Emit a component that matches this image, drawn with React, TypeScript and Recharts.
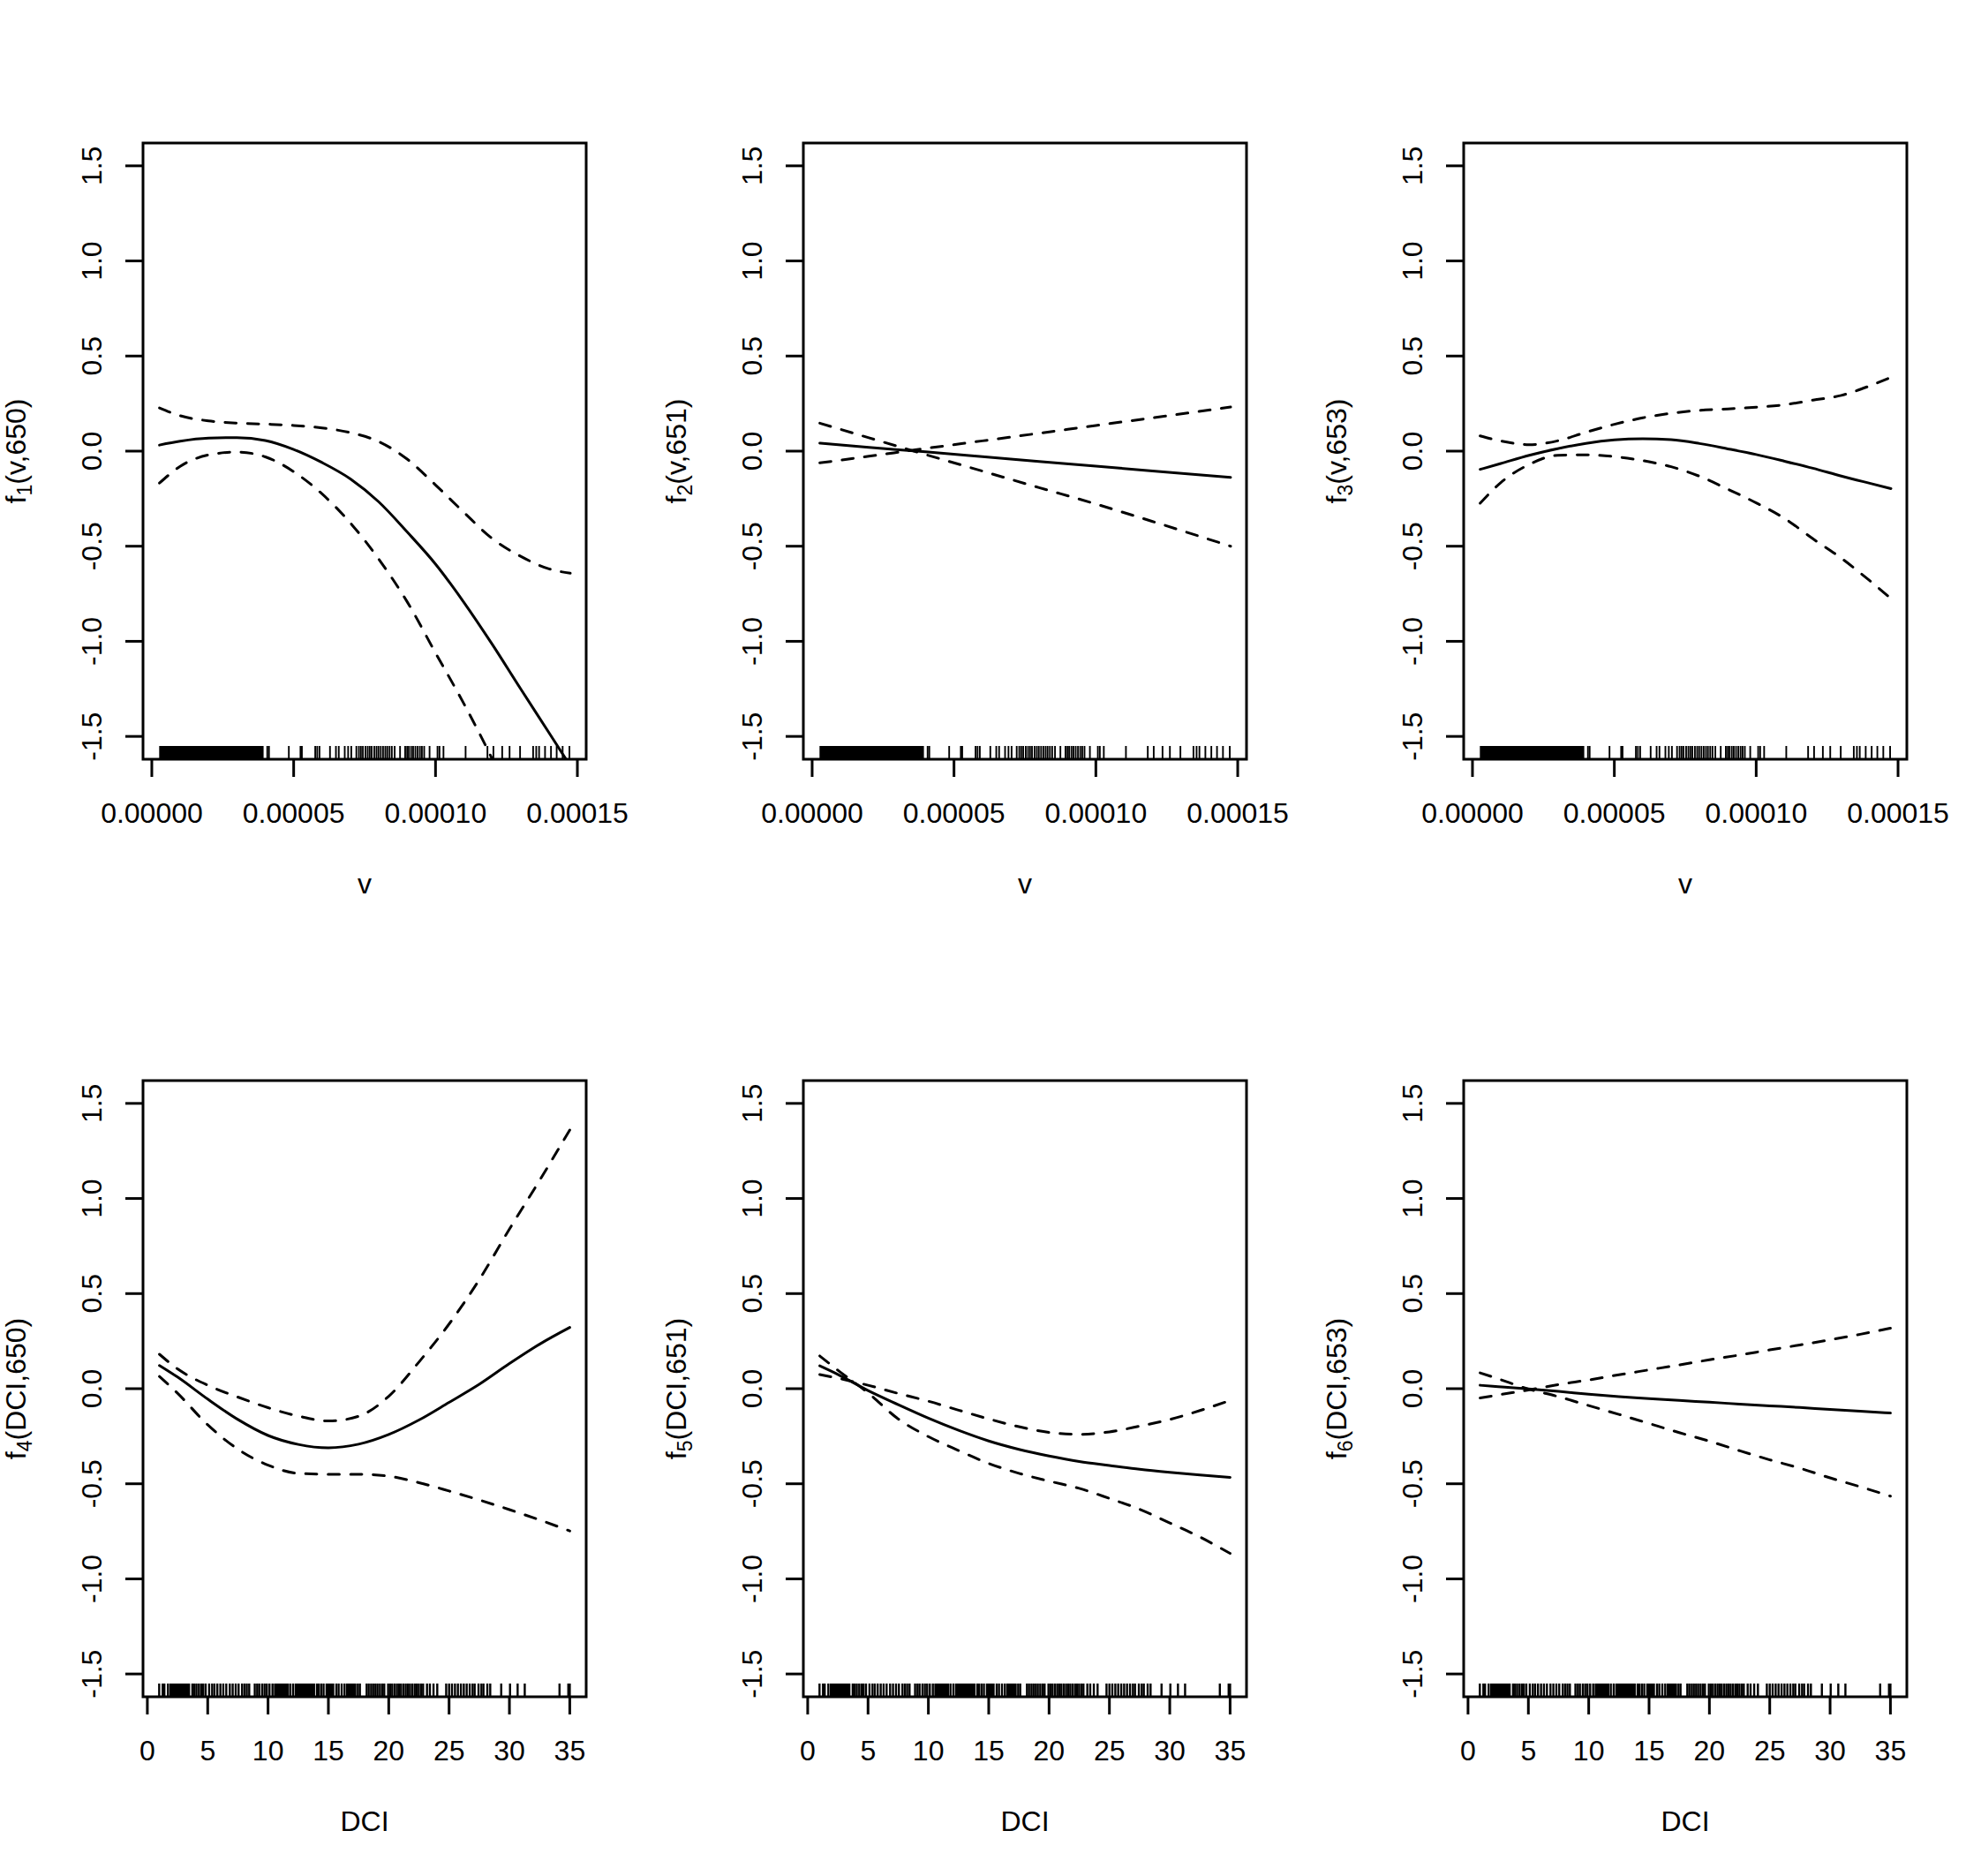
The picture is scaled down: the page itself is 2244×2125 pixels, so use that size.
import React from 'react';
import { ComposedChart, Line, XAxis, YAxis, Scatter, ReferenceArea } from 'recharts';

// ---------- layout ----------
const W = 748;
const H = 1062;
const PL = 162;
const PR = 84;
const PT = 162;
const PB = 202;
const PLOT_W = W - PL - PR; // 502
const PLOT_H = H - PT - PB; // 698
const FONT = '"Liberation Sans", Arial, Helvetica, sans-serif';

// ---------- axes ----------
const Y_DOMAIN: [number, number] = [-1.62, 1.62];
const yTicks = [-1.5, -1, -0.5, 0, 0.5, 1, 1.5];
const yTickLabels = ['-1.5', '-1.0', '-0.5', '0.0', '0.5', '1.0', '1.5'];

// v axis in units of 1e-5
const V_DOMAIN: [number, number] = [-0.31, 15.31];
const vTicks = [0, 5, 10, 15];
const vTickLabels = ['0.00000', '0.00005', '0.00010', '0.00015'];

const DCI_DOMAIN: [number, number] = [-0.36, 36.36];
const dciTicks = [0, 5, 10, 15, 20, 25, 30, 35];
const dciTickLabels = ['0', '5', '10', '15', '20', '25', '30', '35'];

// ---------- data: v panels (x in 1e-5) ----------
const p1X = [0.27, 1, 2, 3, 4, 5, 6, 7, 8, 9, 10, 11, 12, 13, 14, 14.75];
const p1Fit = [0.032, 0.052, 0.068, 0.071, 0.056, 0.009, -0.06, -0.146, -0.267, -0.425, -0.594, -0.795, -1.016, -1.25, -1.481, -1.655];
const p1Up = [0.227, 0.186, 0.159, 0.147, 0.142, 0.135, 0.122, 0.097, 0.05, -0.042, -0.178, -0.322, -0.46, -0.553, -0.619, -0.642];
const p1Lo = [-0.168, -0.08, -0.02, -0.005, -0.03, -0.108, -0.225, -0.378, -0.568, -0.792, -1.061, -1.328, -1.62, -1.95, null, null];

const p2X = [0.27, 2, 4, 6, 8, 10, 12, 14.75];
const p2Fit = [0.042, 0.02, -0.004, -0.029, -0.054, -0.079, -0.104, -0.138];
const p2Up = [-0.062, -0.027, 0.014, 0.054, 0.094, 0.135, 0.175, 0.232];
const p2Lo = [0.147, 0.07, -0.018, -0.105, -0.192, -0.278, -0.37, -0.5];

const p3X = [0.27, 1, 2, 3, 4, 5, 6, 7, 8, 9, 10, 11, 12, 13, 14, 14.75];
const p3Fit = [-0.096, -0.065, -0.022, 0.013, 0.041, 0.059, 0.065, 0.06, 0.04, 0.012, -0.018, -0.053, -0.09, -0.131, -0.169, -0.197];
const p3Up = [0.08, 0.053, 0.034, 0.054, 0.099, 0.141, 0.175, 0.199, 0.214, 0.222, 0.231, 0.244, 0.268, 0.293, 0.343, 0.388];
const p3Lo = [-0.274, -0.165, -0.07, -0.022, -0.02, -0.029, -0.05, -0.082, -0.132, -0.2, -0.272, -0.354, -0.461, -0.563, -0.681, -0.775];

// ---------- data: DCI panels ----------
const dciX = [1, 2.5, 5, 7.5, 10, 12.5, 15, 17.5, 20, 22.5, 25, 27.5, 30, 32.5, 35];
const p4Fit = [0.122, 0.061, -0.055, -0.162, -0.246, -0.293, -0.311, -0.292, -0.241, -0.165, -0.072, 0.023, 0.132, 0.234, 0.322];
const p4Up = [0.181, 0.104, 0.018, -0.044, -0.1, -0.144, -0.17, -0.145, -0.04, 0.14, 0.34, 0.573, 0.839, 1.095, 1.36];
const p4Lo = [0.064, -0.024, -0.19, -0.318, -0.402, -0.445, -0.45, -0.45, -0.46, -0.494, -0.538, -0.585, -0.636, -0.69, -0.748];

const p5Fit = [0.12, 0.075, -0.01, -0.084, -0.155, -0.219, -0.275, -0.319, -0.354, -0.383, -0.404, -0.424, -0.44, -0.454, -0.466];
const p5Up = [0.074, 0.055, 0.018, -0.025, -0.066, -0.113, -0.159, -0.2, -0.23, -0.24, -0.227, -0.197, -0.162, -0.115, -0.062];
const p5Lo = [0.172, 0.097, -0.022, -0.159, -0.252, -0.325, -0.393, -0.445, -0.486, -0.524, -0.577, -0.634, -0.706, -0.78, -0.866];

const p6Fit = [0.018, 0.011, -0.001, -0.014, -0.029, -0.042, -0.052, -0.062, -0.071, -0.081, -0.09, -0.099, -0.109, -0.118, -0.128];
const p6Up = [-0.049, -0.033, -0.007, 0.022, 0.046, 0.073, 0.099, 0.125, 0.152, 0.177, 0.204, 0.23, 0.257, 0.286, 0.318];
const p6Lo = [0.083, 0.052, -0.002, -0.042, -0.089, -0.135, -0.183, -0.231, -0.276, -0.326, -0.374, -0.418, -0.469, -0.516, -0.565];

// ---------- rugs ----------
const vRugBands: [number, number][] = [[0.26, 3.94]];
const vRugTicks = [4.07, 4.13, 4.83, 5.24, 5.29, 5.76, 5.83, 5.91, 6.28, 6.49, 6.59, 6.8, 6.92, 7.03, 7.21, 7.3, 7.37, 7.44, 7.53, 7.61, 7.68, 7.75, 7.84, 7.92, 7.99, 8.07, 8.15, 8.23, 8.3, 8.38, 8.46, 8.56, 8.75, 8.93, 9.0, 9.06, 9.14, 9.21, 9.29, 9.37, 9.45, 9.52, 9.6, 9.79, 10.07, 10.14, 10.28, 11.06, 11.83, 12.04, 12.35, 12.61, 12.98, 13.44, 13.55, 13.65, 13.86, 14.07, 14.27, 14.48, 14.72];

const dciRugBands: [number, number][] = [[1.83, 3.54], [10.49, 11.71], [12.2, 13.9], [14.76, 15.49], [16.46, 17.32]];
const dciRugTicks = [0.98, 1.27, 1.41, 1.71, 3.73, 3.9, 4.07, 4.27, 4.46, 4.63, 4.83, 5.12, 5.37, 5.56, 5.8, 6.05, 6.29, 6.54, 6.83, 7.07, 7.32, 7.56, 7.85, 8.05, 8.24, 8.44, 8.9, 9.1, 9.27, 9.51, 9.71, 9.9, 10.12, 10.37, 11.83, 12.07, 14.05, 14.2, 14.4, 14.6, 15.66, 15.85, 16.1, 16.34, 17.44, 17.61, 18.17, 18.34, 18.54, 18.71, 18.9, 19.07, 19.27, 19.46, 19.63, 19.95, 20.12, 20.29, 20.49, 20.68, 20.85, 21.02, 21.22, 21.41, 21.59, 21.76, 21.95, 22.15, 22.32, 22.49, 22.68, 22.85, 23.17, 23.41, 23.71, 24.02, 24.76, 25, 25.24, 25.49, 25.73, 25.98, 26.22, 26.46, 26.71, 26.95, 27.12, 27.44, 27.68, 27.85, 28.17, 28.41, 29.32, 30.05, 30.68, 31.27, 34.15, 34.88, 35];

const RUG_TOP = -1.62 + 15 / (PLOT_H / 3.24);

type PanelDef = {
  xs: number[];
  fit: (number | null)[];
  up: (number | null)[];
  lo: (number | null)[];
  sub: string;
  arg: string;
  xTitle: string;
  kind: 'v' | 'dci';
};

const panels: PanelDef[] = [
  { xs: p1X, fit: p1Fit, up: p1Up, lo: p1Lo, sub: '1', arg: '(v,650)', xTitle: 'v', kind: 'v' },
  { xs: p2X, fit: p2Fit, up: p2Up, lo: p2Lo, sub: '2', arg: '(v,651)', xTitle: 'v', kind: 'v' },
  { xs: p3X, fit: p3Fit, up: p3Up, lo: p3Lo, sub: '3', arg: '(v,653)', xTitle: 'v', kind: 'v' },
  { xs: dciX, fit: p4Fit, up: p4Up, lo: p4Lo, sub: '4', arg: '(DCI,650)', xTitle: 'DCI', kind: 'dci' },
  { xs: dciX, fit: p5Fit, up: p5Up, lo: p5Lo, sub: '5', arg: '(DCI,651)', xTitle: 'DCI', kind: 'dci' },
  { xs: dciX, fit: p6Fit, up: p6Up, lo: p6Lo, sub: '6', arg: '(DCI,653)', xTitle: 'DCI', kind: 'dci' },
];

const toPts = (xs: number[], ys: (number | null)[]) => xs.map((x, i) => ({ x, y: ys[i] }));

const makeRugShape = (w: number) => (props: any) => {
  const { cx, cy } = props;
  if (cx == null || cy == null) return null;
  const yb = PT + PLOT_H;
  return <line x1={cx} x2={cx} y1={yb} y2={yb - 15} stroke="#000" strokeWidth={w} />;
};

const makeXTick = (ticks: number[], labels: string[]) => (props: any) => {
  const { x, payload } = props;
  const i = ticks.indexOf(payload.value);
  return (
    <text x={x} y={PT + PLOT_H + 72} textAnchor="middle" fontFamily={FONT} fontSize={32} fill="#000">
      {i >= 0 ? labels[i] : ''}
    </text>
  );
};

const YTick = (props: any) => {
  const { y, payload } = props;
  const i = yTicks.indexOf(payload.value);
  const bx = 115;
  return (
    <text x={bx} y={y} transform={`rotate(-90, ${bx}, ${y})`} textAnchor="middle" fontFamily={FONT} fontSize={32} fill="#000">
      {i >= 0 ? yTickLabels[i] : ''}
    </text>
  );
};

const XTitle = ({ text }: { text: string }) => (
  <text x={PL + PLOT_W / 2} y={1012} textAnchor="middle" fontFamily={FONT} fontSize={32} fill="#000">
    {text}
  </text>
);

const YTitle = ({ sub, arg }: { sub: string; arg: string }) => {
  const bx = 29;
  const cy = PT + PLOT_H / 2;
  return (
    <text x={bx} y={cy} transform={`rotate(-90, ${bx}, ${cy})`} textAnchor="middle" fontFamily={FONT} fontSize={32} fill="#000">
      f
      <tspan fontSize={23} dy={7}>{sub}</tspan>
      <tspan dy={-7}>{arg}</tspan>
    </text>
  );
};

const Panel = ({ def }: { def: PanelDef }) => {
  const isV = def.kind === 'v';
  const xDomain = isV ? V_DOMAIN : DCI_DOMAIN;
  const xTicks = isV ? vTicks : dciTicks;
  const xLabels = isV ? vTickLabels : dciTickLabels;
  const bands = isV ? vRugBands : dciRugBands;
  const rug = (isV ? vRugTicks : dciRugTicks).map((x) => ({ x, y: -1.62 }));
  const lineCommon = {
    type: 'monotone' as const,
    dataKey: 'y',
    stroke: '#000',
    strokeWidth: 3,
    dot: false,
    activeDot: false,
    isAnimationActive: false,
    connectNulls: false,
    strokeLinecap: 'round' as const,
  };
  return (
    <ComposedChart width={W} height={H} margin={{ top: PT, right: PR, bottom: 0, left: 0 }}>
      <XAxis
        type="number"
        dataKey="x"
        domain={xDomain}
        ticks={xTicks}
        interval={0}
        allowDataOverflow
        axisLine={false}
        tickLine={{ stroke: '#000', strokeWidth: 3 }}
        tickSize={20}
        tickMargin={0}
        height={PB}
        tick={makeXTick(xTicks, xLabels)}
        label={<XTitle text={def.xTitle} />}
      />
      <YAxis
        type="number"
        domain={Y_DOMAIN}
        ticks={yTicks}
        interval={0}
        allowDataOverflow
        axisLine={false}
        tickLine={{ stroke: '#000', strokeWidth: 3 }}
        tickSize={20}
        tickMargin={0}
        width={PL}
        tick={<YTick />}
        label={<YTitle sub={def.sub} arg={def.arg} />}
      />
      {bands.map((b, i) => (
        <ReferenceArea key={`b${i}`} x1={b[0]} x2={b[1]} y1={-1.62} y2={RUG_TOP} fill="#000" fillOpacity={1} stroke="none" ifOverflow="visible" />
      ))}
      <Scatter data={rug} dataKey="y" shape={makeRugShape(isV ? 1.9 : 2.4)} isAnimationActive={false} />
      <Line {...lineCommon} data={toPts(def.xs, def.fit)} />
      <Line {...lineCommon} data={toPts(def.xs, def.up)} strokeDasharray="12.75 12.75" />
      <Line {...lineCommon} data={toPts(def.xs, def.lo)} strokeDasharray="12.75 12.75" />
      <ReferenceArea x1={xDomain[0]} x2={xDomain[1]} y1={Y_DOMAIN[0]} y2={Y_DOMAIN[1]} fill="none" stroke="#000" strokeWidth={3} ifOverflow="visible" />
    </ComposedChart>
  );
};

export default function App() {
  return (
    <div style={{ position: 'absolute', left: 0, top: 0, width: 2244, height: 2125, background: '#fff', overflow: 'hidden' }}>
      {panels.map((p, i) => (
        <div key={i} style={{ position: 'absolute', left: (i % 3) * 748, top: Math.floor(i / 3) * 1062, width: W, height: H }}>
          <Panel def={p} />
        </div>
      ))}
    </div>
  );
}
